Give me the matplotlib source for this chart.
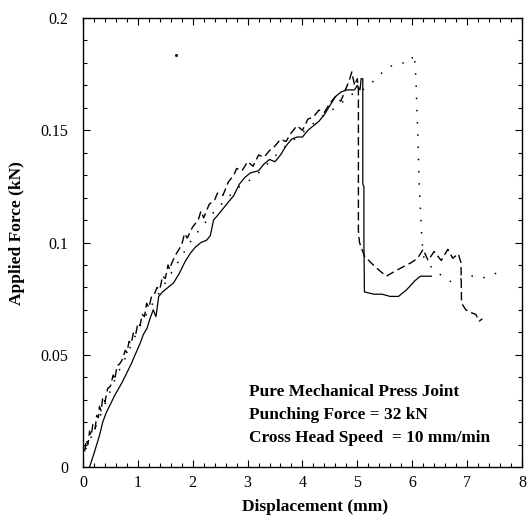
import numpy as np
import matplotlib
matplotlib.use("Agg")
import matplotlib.pyplot as plt
from matplotlib.ticker import MultipleLocator

# solid curve
solid_x = [0.12, 0.2, 0.3, 0.36, 0.42, 0.5, 0.58, 0.65, 0.72, 0.8, 0.88, 0.95,
           1.04, 1.1, 1.17, 1.22, 1.28, 1.33, 1.38, 1.45, 1.55, 1.65, 1.75, 1.85,
           1.95, 2.05, 2.15, 2.25, 2.32, 2.38, 2.45, 2.55, 2.65, 2.75, 2.85, 2.95,
           3.05, 3.2, 3.3, 3.4, 3.5, 3.6, 3.7, 3.8, 3.9, 4.0, 4.1, 4.2, 4.3, 4.4,
           4.5, 4.6, 4.7, 4.8, 4.95, 5.0, 5.05, 5.07, 5.1, 5.1, 5.12, 5.12, 5.13,
           5.3, 5.45, 5.6, 5.75, 5.9, 6.05, 6.15, 6.35]
solid_y = [0.000, 0.006, 0.014, 0.020, 0.024, 0.028, 0.032, 0.035, 0.038, 0.042, 0.046, 0.050,
           0.055, 0.059, 0.062, 0.066, 0.070, 0.067, 0.076, 0.078, 0.080, 0.082, 0.086, 0.091,
           0.095, 0.098, 0.100, 0.101, 0.103, 0.110, 0.112, 0.115, 0.118, 0.121, 0.126, 0.129,
           0.131, 0.132, 0.135, 0.137, 0.136, 0.139, 0.143, 0.146, 0.147, 0.147, 0.150, 0.152, 0.154, 0.157,
           0.161, 0.165, 0.167, 0.168, 0.168, 0.170, 0.168, 0.173, 0.173, 0.126, 0.125, 0.101, 0.078,
           0.077, 0.077, 0.076, 0.076, 0.079, 0.083, 0.085, 0.085]

# dashed curve
dash_x = [0.03, 0.06, 0.09, 0.12, 0.15, 0.18, 0.22, 0.25, 0.28, 0.3, 0.33, 0.36, 0.4,
          0.45, 0.5, 0.55, 0.58, 0.62, 0.67, 0.72, 0.77, 0.8, 0.84, 0.88, 0.92, 0.96,
          1.0, 1.04, 1.08, 1.12, 1.16, 1.2, 1.25, 1.3, 1.35, 1.4, 1.45, 1.5, 1.55, 1.58,
          1.62, 1.7, 1.8, 1.85, 1.9, 2.0, 2.1, 2.15, 2.2, 2.3, 2.4, 2.45, 2.55, 2.65,
          2.75, 2.8, 2.9, 3.0, 3.1, 3.2, 3.3, 3.4, 3.5, 3.6, 3.7, 3.8, 3.9, 4.0, 4.1,
          4.2, 4.3, 4.4, 4.5, 4.6, 4.7, 4.8, 4.85, 4.9, 4.95, 5.0, 5.02, 5.02, 5.04,
          5.13, 5.25, 5.38, 5.53, 5.67, 5.82, 5.98, 6.1, 6.2, 6.29, 6.4, 6.53, 6.65,
          6.74, 6.84, 6.89, 6.9, 6.98, 7.05, 7.16, 7.22, 7.28]
dash_y = [0.007, 0.012, 0.010, 0.016, 0.014, 0.019, 0.017, 0.023, 0.022, 0.027, 0.025, 0.031, 0.029,
          0.035, 0.036, 0.041, 0.039, 0.045, 0.046, 0.048, 0.052, 0.051, 0.056, 0.055, 0.060, 0.059,
          0.064, 0.063, 0.068, 0.067, 0.073, 0.071, 0.076, 0.077, 0.080, 0.079, 0.085, 0.084, 0.090, 0.088,
          0.091, 0.095, 0.099, 0.104, 0.102, 0.107, 0.110, 0.114, 0.111, 0.117, 0.119, 0.122, 0.121, 0.127,
          0.130, 0.133, 0.132, 0.136, 0.134, 0.139, 0.138, 0.141, 0.143, 0.146, 0.145, 0.149, 0.152, 0.150, 0.155,
          0.156, 0.159, 0.158, 0.162, 0.165, 0.163, 0.169, 0.172, 0.176, 0.170, 0.173, 0.168, 0.105, 0.100,
          0.094, 0.091, 0.088, 0.085, 0.087, 0.089, 0.091, 0.093, 0.097, 0.092, 0.096, 0.092, 0.097,
          0.093, 0.095, 0.091, 0.073, 0.070, 0.069, 0.068, 0.065, 0.066]

# dotted curve
dot_x = [0.05, 0.2, 0.4, 0.6, 0.8, 1.0, 1.2, 1.4, 1.6, 1.8, 2.0, 2.2, 2.4, 2.6, 2.8,
         3.0, 3.2, 3.4, 3.6, 3.8, 4.0, 4.2, 4.4, 4.6, 4.8, 4.9, 5.0, 5.1, 5.2, 5.35,
         5.5, 5.65, 5.8, 5.95, 6.04, 6.07, 6.1, 6.13, 6.17, 6.2, 6.35, 6.5, 6.65, 6.8,
         6.95, 7.1, 7.25, 7.4, 7.6]
dot_y = [0.008, 0.016, 0.028, 0.040, 0.050, 0.061, 0.070, 0.078, 0.086, 0.094, 0.102, 0.108, 0.114, 0.119, 0.124,
         0.127, 0.131, 0.136, 0.141, 0.145, 0.149, 0.153, 0.157, 0.160, 0.164, 0.166, 0.167, 0.168, 0.170, 0.173,
         0.177, 0.179, 0.180, 0.180, 0.184, 0.172, 0.150, 0.125, 0.105, 0.094, 0.089, 0.086, 0.083, 0.082,
         0.085, 0.085, 0.084, 0.085, 0.087]

stray_x = [1.69]
stray_y = [0.1835]

notes = ["Pure Mechanical Press Joint",
         "Punching Force = 32 kN",
         "Cross Head Speed  = 10 mm/min"]

x_ticks = [0, 1, 2, 3, 4, 5, 6, 7, 8]
y_ticks = [0, 0.05, 0.1, 0.15, 0.2]
y_labels = ["0", "0.05", "0.1", "0.15", "0.2"]

serif = "Liberation Serif"

fig = plt.figure(figsize=(5.32, 5.23), dpi=100)
ax = fig.add_axes([0.156, 0.107, 0.825, 0.8585])

ax.plot(solid_x, solid_y, color="black", lw=0.9, ls="-")
ax.plot(dash_x, dash_y, color="black", lw=1.0, ls=(0, (6, 3)))
ax.plot(dot_x, dot_y, color="black", lw=1.1, ls=(0, (1, 7)))
ax.plot(stray_x, stray_y, ls="none", marker="s", ms=1.0, color="black")

ax.set_xlim(0, 8)
ax.set_ylim(0, 0.2)
ax.set_xticks(x_ticks)
ax.set_xticklabels([str(v) for v in x_ticks], fontfamily=serif, fontsize=11.5)
ax.set_yticks(y_ticks)
ax.set_yticklabels(y_labels, fontfamily=serif, fontsize=11.5)
ax.xaxis.set_minor_locator(MultipleLocator(0.2))
ax.yaxis.set_minor_locator(MultipleLocator(0.01))
ax.tick_params(which="both", direction="in", top=True, right=True, width=0.8)
ax.tick_params(which="major", length=5)
ax.tick_params(which="minor", length=3)
ax.tick_params(axis="x", which="major", pad=6)
ax.tick_params(axis="y", which="major", pad=10.5)
for s in ax.spines.values():
    s.set_linewidth(1.0)

ax.set_xlabel("Displacement (mm)", fontfamily=serif, fontweight="bold", fontsize=12.5)
ax.set_ylabel("Applied Force (kN)", fontfamily=serif, fontweight="bold", fontsize=12.5)
ax.xaxis.set_label_coords(0.528, -0.072)
ax.yaxis.set_label_coords(-0.132, 0.521)

for i, t in enumerate(notes):
    ax.text(3.03, 0.0335 - i * 0.0102, t, fontfamily=serif, fontweight="bold", fontsize=12.4,
            va="center", ha="left")

fig.savefig("out.png", dpi=100)
